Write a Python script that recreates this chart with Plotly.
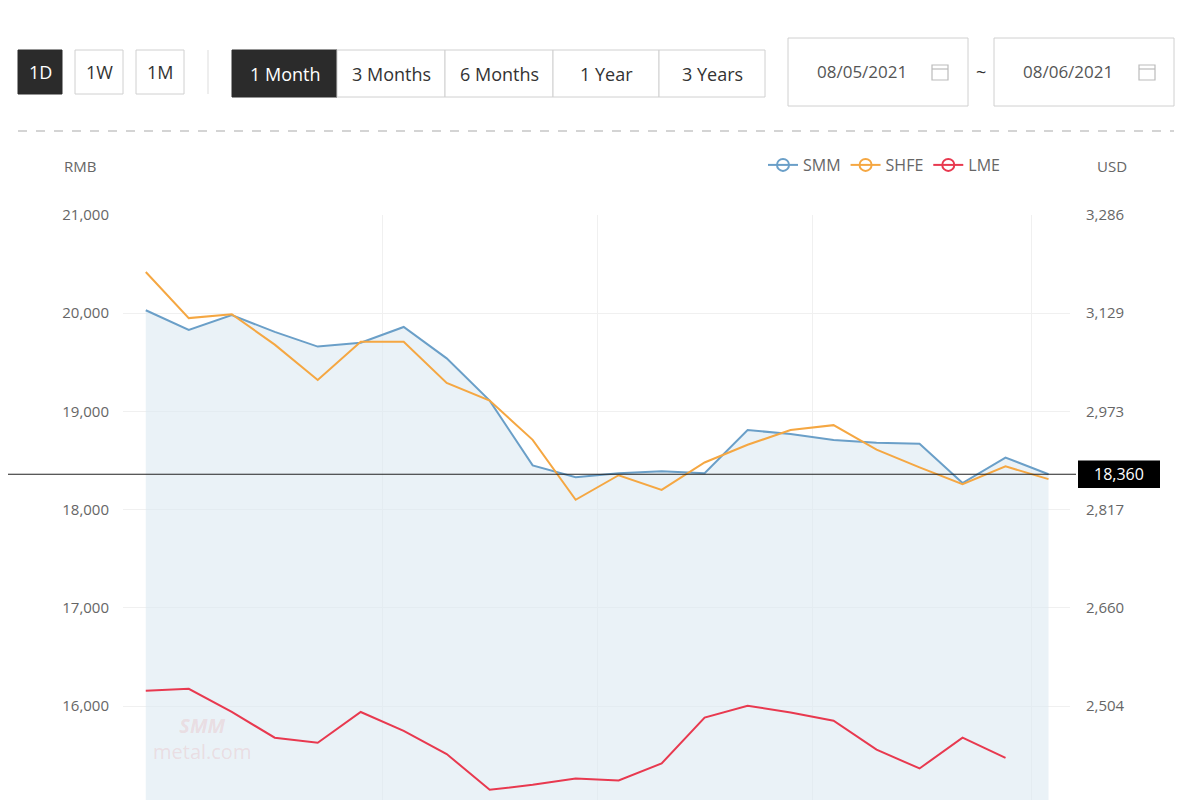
import plotly.graph_objects as go

# 22 trading days
days = list(range(22))
smm = [20030, 19830, 19980, 19810, 19660, 19700, 19860, 19540, 19110, 18450, 18330,
       18370, 18390, 18370, 18810, 18770, 18710, 18680, 18670, 18270, 18530, 18360]
shfe = [20420, 19950, 19990, 19680, 19320, 19710, 19710, 19290, 19110, 18710, 18100,
        18350, 18200, 18480, 18660, 18810, 18860, 18610, 18430, 18260, 18440, 18310]
lme_usd = [2528, 2531, 2494, 2453, 2445, 2494, 2464, 2427, 2370, 2378, 2388,
           2385, 2412, 2485, 2504, 2493, 2480, 2434, 2404, 2453, 2421]
left_ticks = [15000, 16000, 17000, 18000, 19000, 20000, 21000]
right_labels = ["2,347", "2,504", "2,660", "2,817", "2,973", "3,129", "3,286"]
last_price = 18360
RATE = 0.15647  # USD per RMB as the two axes line up

BLUE, ORANGE, RED = "#6a9fc8", "#f5a742", "#e8394f"
GRAY = "#666"

W, H = 1200, 800
OFF = 8  # page margin around the plot div
PL, PR, PT, PB = 123, 1070, 215, 808
def px(x): return (x - OFF) / W
def py(y): return (H - (y - OFF)) / H

y_lo = 21000 - (PB - PT) / 98.2 * 1000
y_range = [y_lo, 21000]

fig = go.Figure()
fig.add_trace(go.Scatter(x=days, y=smm, mode="lines", line=dict(color=BLUE, width=2),
                         fill="tozeroy", fillcolor="rgba(220,234,241,0.6)", showlegend=False))
fig.add_trace(go.Scatter(x=days, y=shfe, mode="lines", line=dict(color=ORANGE, width=2),
                         showlegend=False))
fig.add_trace(go.Scatter(x=days[:len(lme_usd)], y=lme_usd, mode="lines", yaxis="y2",
                         line=dict(color=RED, width=2), showlegend=False))
for name, c in [("SMM", BLUE), ("SHFE", ORANGE), ("LME", RED)]:
    fig.add_trace(go.Scatter(x=[None], y=[None], name=name, mode="lines+markers",
                             line=dict(color=c, width=2),
                             marker=dict(symbol="circle-open", size=12, color=c, line=dict(width=2))))

shapes, ann = [], []
def text(x, y, t, size=18, color="#333", anchor="center", yref="paper"):
    ann.append(dict(xref="paper", yref=yref, x=px(x), y=py(y) if yref == "paper" else y,
                    text=t, showarrow=False, xanchor=anchor, yanchor="middle",
                    font=dict(size=size, color=color)))

def box(x0, y0, x1, y1, t, dark=False, size=18):
    shapes.append(dict(type="rect", xref="paper", yref="paper", x0=px(x0), x1=px(x1),
                       y0=py(y1), y1=py(y0), fillcolor="#2b2b2b" if dark else "white",
                       line=dict(color="#2b2b2b" if dark else "#d0d0d0", width=1), layer="above"))
    text((x0 + x1) / 2, (y0 + y1) / 2, t, size, "white" if dark else "#333")

def calendar(x, y):
    shapes.append(dict(type="rect", xref="paper", yref="paper", x0=px(x - 8), x1=px(x + 8),
                       y0=py(y + 8), y1=py(y - 7), line=dict(color="#bbb", width=1.2), layer="above"))
    shapes.append(dict(type="line", xref="paper", yref="paper", x0=px(x - 8), x1=px(x + 8),
                       y0=py(y - 3), y1=py(y - 3), line=dict(color="#bbb", width=1.2), layer="above"))

box(18, 50, 62, 94, "1D", True)
box(75, 50, 123, 94, "1W")
box(136, 50, 184, 94, "1M")
shapes.append(dict(type="line", xref="paper", yref="paper", x0=px(208), x1=px(208),
                   y0=py(94), y1=py(50), line=dict(color="#ddd", width=1)))
for x0, x1, t in [(232, 337, "1 Month"), (337, 445, "3 Months"), (445, 553, "6 Months"),
                  (553, 659, "1 Year"), (659, 765, "3 Years")]:
    box(x0, 50, x1, 97, t, t == "1 Month")
box(788, 38, 968, 106, "")
box(994, 38, 1174, 106, "")
text(862, 72, "08/05/2021", 17, "#555")
text(1068, 72, "08/06/2021", 17, "#555")
calendar(940, 72)
calendar(1147, 72)
text(981, 72, "~", 18)
shapes.append(dict(type="line", xref="paper", yref="paper", x0=px(18), x1=px(1174),
                   y0=py(131), y1=py(131), line=dict(color="#aaa", width=1.2, dash="dash")))

# last price line and label
shapes.append(dict(type="line", xref="paper", yref="y", x0=0, x1=px(1076),
                   y0=last_price, y1=last_price, line=dict(color="#222", width=1.2)))
shapes.append(dict(type="rect", xref="paper", yref="y", x0=px(1078), x1=px(1160),
                   y0=last_price - 140, y1=last_price + 140, fillcolor="black", line=dict(width=0)))
text(1119, last_price, f"{last_price:,}", 16, "white", yref="y")

text(80, 166, "RMB", 15, GRAY)
text(1112, 166, "USD", 15, GRAY)
ann.append(dict(xref="paper", yref="paper", x=px(202), y=py(738), showarrow=False,
                xanchor="center", yanchor="middle",
                text="<b><i>SMM</i></b><br>metal.com", font=dict(size=20, color="rgba(230,120,120,0.18)")))

fig.update_layout(
    width=W, height=H, plot_bgcolor="white", paper_bgcolor="white",
    margin=dict(l=0, r=0, t=0, b=0, autoexpand=False),
    font=dict(family="Open Sans, Roboto, sans-serif", color=GRAY, size=15),
    xaxis=dict(domain=[px(PL), px(PR)], range=[-0.53, 21.5], tickvals=[5.5, 10.5, 15.5, 20.6],
               showticklabels=False, showgrid=True, gridcolor="#f0f0f0", zeroline=False, showline=False),
    yaxis=dict(domain=[py(PB), py(PT)], range=y_range, tickvals=left_ticks, tickformat=",",
               showgrid=True, gridcolor="#f0f0f0", zeroline=False, ticks="outside",
               ticklen=10, tickcolor="white"),
    yaxis2=dict(overlaying="y", side="right", range=[v * RATE for v in y_range],
                tickvals=[v * RATE for v in left_ticks], ticktext=right_labels,
                showgrid=False, zeroline=False, ticks="outside", ticklen=12, tickcolor="white"),
    legend=dict(orientation="h", xref="paper", yref="paper", x=px(763), y=py(148),
                xanchor="left", yanchor="top", font=dict(size=16, color=GRAY), bgcolor="rgba(0,0,0,0)"),
    shapes=shapes, annotations=ann,
)
fig.write_html("out.html")
